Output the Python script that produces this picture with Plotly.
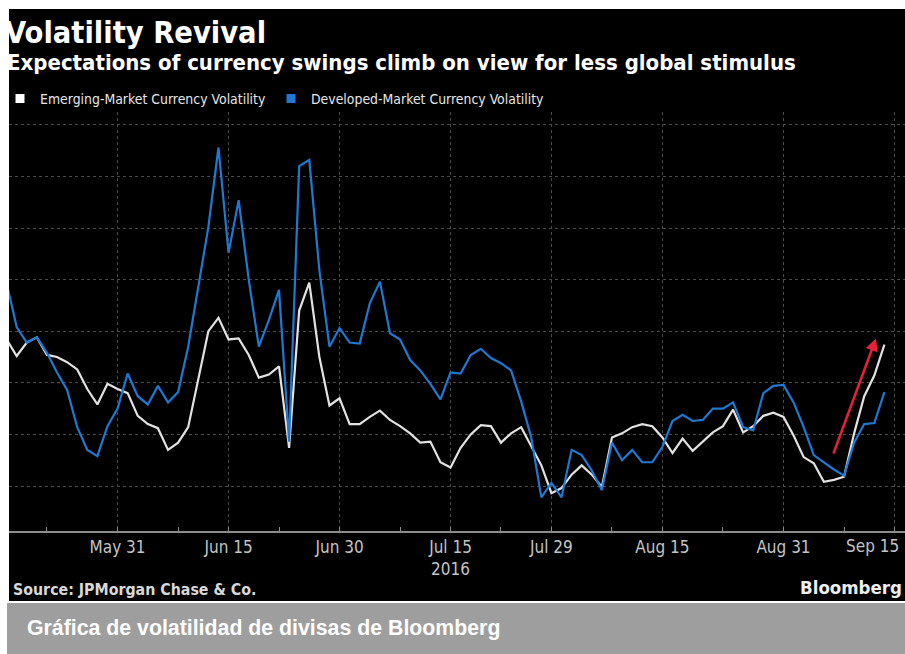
import plotly.graph_objects as go
import pandas as pd

# ---- data -------------------------------------------------------------
dates = pd.bdate_range("2016-05-16", "2016-09-14")

em_vol = [9.42, 9.26, 9.39, 9.44, 9.27, 9.25, 9.20, 9.13, 8.94, 8.79,
          8.99, 8.94, 8.90, 8.68, 8.60, 8.56, 8.35, 8.42, 8.57, 9.03,
          9.50, 9.63, 9.42, 9.43, 9.27, 9.05, 9.08, 9.16, 8.37, 9.70,
          9.97, 9.25, 8.78, 8.85, 8.60, 8.60, 8.67, 8.73, 8.64, 8.58,
          8.51, 8.42, 8.43, 8.23, 8.18, 8.37, 8.50, 8.59, 8.58, 8.42,
          8.51, 8.57, 8.38, 8.20, 7.93, 7.98, 8.11, 8.20, 8.11, 7.99,
          8.47, 8.51, 8.57, 8.60, 8.58, 8.47, 8.32, 8.46, 8.34, 8.43,
          8.52, 8.58, 8.74, 8.52, 8.58, 8.68, 8.71, 8.67, 8.49, 8.28,
          8.22, 8.04, 8.06, 8.09, 8.51, 8.87, 9.07, 9.37]

dm_vol = [9.97, 9.54, 9.39, 9.44, 9.29, 9.10, 8.93, 8.57, 8.35, 8.29,
          8.58, 8.75, 9.09, 8.87, 8.79, 8.97, 8.81, 8.91, 9.35, 9.93,
          10.51, 11.28, 10.26, 10.77, 10.00, 9.35, 9.61, 9.90, 8.43, 11.10,
          11.16, 10.09, 9.35, 9.53, 9.39, 9.38, 9.77, 9.98, 9.48, 9.42,
          9.22, 9.12, 8.99, 8.84, 9.10, 9.09, 9.27, 9.33, 9.24, 9.19,
          9.12, 8.82, 8.47, 7.89, 8.03, 7.89, 8.35, 8.30, 8.15, 7.96,
          8.42, 8.25, 8.35, 8.23, 8.23, 8.38, 8.63, 8.69, 8.63, 8.64,
          8.75, 8.75, 8.81, 8.57, 8.54, 8.90, 8.97, 8.98, 8.81, 8.57,
          8.30, 8.23, 8.16, 8.10, 8.42, 8.60, 8.61, 8.91]

series_names = ["Emerging-Market Currency Volatility",
                "Developed-Market Currency Volatility"]

tick_dates = ["2016-05-31", "2016-06-15", "2016-06-30", "2016-07-15",
              "2016-07-29", "2016-08-15", "2016-08-31", "2016-09-15"]
tick_labels = ["May 31", "Jun 15", "Jun 30", "Jul 15<br>2016", "Jul 29",
               "Aug 15", "Aug 31", ""]
last_tick_label = "Sep 15"   # drawn right-aligned at its tick so it stays inside
minor_dates = ["2016-05-20", "2016-06-08", "2016-06-22", "2016-07-08",
               "2016-07-22", "2016-08-08", "2016-08-23", "2016-09-08"]

x_range = ["2016-05-16 05:45", "2016-09-16 01:00"]
y_range = [7.564, 11.624]

# red arrow (tail -> head)
arrow_tail = ("2016-09-06 21:30", 8.30)
arrow_head = ("2016-09-13 04:00", 9.43)

# ---- styling ------------------------------------------------------------
COND = "DejaVu Sans Condensed, DejaVu Sans, sans-serif"
WHITE_LINE = "#e2e2e2"
BLUE_LINE = "#1f78d2"
TICK_FONT = dict(family=COND, size=17, color="#c4c4c4")
W, H = 905, 654
ML, MR, MT, MB = 9, 0, 112, 123
PW, PH = W - ML - MR, H - MT - MB


def px_x(p):
    return (p - ML) / PW


def px_y(p):
    return (H - MB - p) / PH


fig = go.Figure()

fig.add_trace(go.Scatter(x=dates, y=em_vol, mode="lines", name=series_names[0],
                         line=dict(color=WHITE_LINE, width=2.2),
                         showlegend=False, legendgroup="em"))
fig.add_trace(go.Scatter(x=dates, y=dm_vol, mode="lines", name=series_names[1],
                         line=dict(color=BLUE_LINE, width=2.2),
                         showlegend=False, legendgroup="dm"))
# legend swatches (square markers like the original)
fig.add_trace(go.Scatter(x=[None], y=[None], mode="markers", name=series_names[0],
                         marker=dict(symbol="square", size=9, color="#ffffff"),
                         legendgroup="em"))
fig.add_trace(go.Scatter(x=[None], y=[None], mode="markers", name=series_names[1],
                         marker=dict(symbol="square", size=9, color=BLUE_LINE),
                         legendgroup="dm"))

shapes = [
    dict(type="rect", xref="paper", yref="paper", layer="below",
         x0=px_x(9), x1=px_x(910), y0=px_y(601), y1=px_y(9),
         fillcolor="black", line=dict(width=0)),
    dict(type="rect", xref="paper", yref="paper", layer="below",
         x0=px_x(7), x1=px_x(910), y0=px_y(660), y1=px_y(603),
         fillcolor="#9e9e9e", line=dict(width=0)),
]

annotations = [
    dict(text="<b>Expectations of currency swings climb on view for less global stimulus</b>",
         xref="paper", yref="paper", x=px_x(5), y=px_y(63), xanchor="left", yanchor="middle",
         showarrow=False, font=dict(family=COND, size=22, color="#ffffff")),
    dict(text=last_tick_label, xref="x", yref="paper", x=tick_dates[-1], xshift=7,
         y=px_y(546), xanchor="right", yanchor="middle", showarrow=False,
         font=TICK_FONT),
    dict(text="<b>Source: JPMorgan Chase & Co.</b>",
         xref="paper", yref="paper", x=px_x(11), y=px_y(589), xanchor="left", yanchor="middle",
         showarrow=False, font=dict(family=COND, size=15.8, color="#d8d8d8")),
    dict(text="<b>Bloomberg</b>",
         xref="paper", yref="paper", x=px_x(904), y=px_y(587), xanchor="right", yanchor="middle",
         showarrow=False, font=dict(family=COND, size=18.5, color="#eeeeee")),
    dict(text="<b>Gráfica de volatilidad de divisas de Bloomberg</b>",
         xref="paper", yref="paper", x=px_x(25), y=px_y(628), xanchor="left", yanchor="middle",
         showarrow=False, font=dict(family="Liberation Sans, Arial, sans-serif", size=21.3,
                                    color="#ffffff")),
    dict(x=arrow_head[0], y=arrow_head[1], ax=arrow_tail[0], ay=arrow_tail[1],
         xref="x", yref="y", axref="x", ayref="y", text="", showarrow=True,
         arrowhead=2, arrowsize=1, arrowwidth=2.5, arrowcolor="#e8203a"),
]

fig.update_layout(
    width=W, height=H, autosize=False,
    margin=dict(l=ML, r=MR, t=MT, b=MB, pad=0, autoexpand=False),
    paper_bgcolor="#ffffff", plot_bgcolor="#000000",
    title=dict(text="<b>Volatility Revival</b>", x=5 / W, xanchor="left",
               xref="container", yref="container", y=1 - 32.5 / H, yanchor="middle",
               font=dict(family=COND, size=30.5, color="#ffffff")),
    legend=dict(orientation="h", xref="container", yref="container",
                x=0.0, xanchor="left", y=1 - 99 / H, yanchor="middle",
                bgcolor="rgba(0,0,0,0)", borderwidth=0,
                font=dict(family=COND, size=13.9, color="#e6e6e6"),
                itemwidth=30, tracegroupgap=0),
    xaxis=dict(type="date", range=x_range, automargin=False,
               rangebreaks=[dict(bounds=["sat", "mon"])],
               tickmode="array", tickvals=tick_dates, ticktext=tick_labels,
               showgrid=True, gridcolor="#4a4a4a", griddash="dot", gridwidth=1,
               showline=True, linecolor="#8c8c8c", linewidth=1.5,
               ticks="inside", ticklen=4, tickcolor="#8c8c8c", tickwidth=1,
               minor=dict(tickmode="array", tickvals=minor_dates, ticks="inside",
                          ticklen=4, tickcolor="#8c8c8c", showgrid=False),
               tickfont=TICK_FONT,
               zeroline=False, fixedrange=True),
    yaxis=dict(range=y_range, tick0=8, dtick=0.5, showgrid=True, automargin=False,
               gridcolor="#4a4a4a", griddash="dot", gridwidth=1,
               showticklabels=False, zeroline=False, showline=False, ticks=""),
    shapes=shapes,
    annotations=annotations,
)

fig.write_html(
    "out.html",
    config={"displayModeBar": False},
    post_script="document.body.style.margin='0px';"
                "document.documentElement.style.overflow='hidden';",
)
